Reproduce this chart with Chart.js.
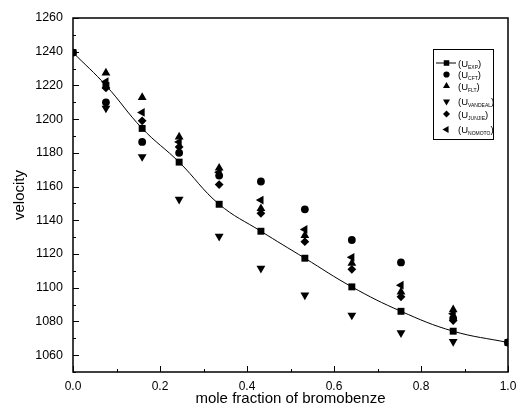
<!DOCTYPE html>
<html><head><meta charset="utf-8">
<script src="https://cdn.jsdelivr.net/npm/chart.js@4/dist/chart.umd.min.js"></script>
<style>html,body{margin:0;padding:0;background:#fff}canvas{display:block}</style>
</head><body>
<canvas id="c" width="518" height="410"></canvas>
<script>
// ---- data ----
const moleFraction = [0, 0.0757, 0.159, 0.244, 0.336, 0.432, 0.533, 0.641, 0.754, 0.874, 1.0];
const uEXP     = [1239.5, 1220.0, 1194.5, 1174.5, 1149.5, 1133.5, 1117.5, 1100.5, 1086.0, 1074.2, 1067.5];
const uCFT     = [1239.5, 1210.0, 1186.5, 1180.0, 1166.5, 1163.0, 1146.5, 1128.3, 1115.0, 1081.8, 1067.5];
const uFLT     = [null, 1227.4, 1212.9, 1189.5, 1171.0, 1147.0, 1131.0, 1114.5, 1097.5, 1087.0, null];
const uVANDEAL = [null, 1206.5, 1177.7, 1152.4, 1130.5, 1111.5, 1095.6, 1083.7, 1073.2, 1068.0, null];
const uJUNJIE  = [null, 1218.5, 1199.0, 1183.5, 1161.2, 1144.1, 1127.3, 1110.9, 1094.6, 1080.5, null];
const uNOMOTO  = [null, 1222.2, 1204.0, 1186.5, 1168.5, 1152.0, 1134.6, 1118.0, 1101.5, 1084.5, null];
const seriesSubs = ['EXP', 'CFT', 'FLT', 'VANDEAL', 'JUNJIE', 'NOMOTO'];
const xTickLabels = ['0.0', '0.2', '0.4', '0.6', '0.8', '1.0'];
const yTickLabels = ['1060','1080','1100','1120','1140','1160','1180','1200','1220','1240','1260'];
const xTitle = 'mole fraction of bromobenze';
const yTitle = 'velocity';

function pts(arr){ return moleFraction.map((x,i)=>arr[i]==null?null:{x:x,y:arr[i]}).filter(p=>p); }

const FONT = "'Liberation Sans', Arial, sans-serif";
const styles = [
  {pointStyle:'rect', rotation:0, radius:4.9},
  {pointStyle:'circle', rotation:0, radius:3.9},
  {pointStyle:'triangle', rotation:0, radius:5.1},
  {pointStyle:'triangle', rotation:180, radius:5.1},
  {pointStyle:'rectRot', rotation:0, radius:4.4},
  {pointStyle:'triangle', rotation:270, radius:5.1}
];
const seriesData = [uEXP, uCFT, uFLT, uVANDEAL, uJUNJIE, uNOMOTO];

const datasets = seriesData.map((arr, i) => ({
  type: i === 0 ? 'line' : 'scatter',
  label: 'U' + seriesSubs[i],
  data: pts(arr),
  showLine: i === 0,
  borderColor: '#000',
  backgroundColor: '#000',
  borderWidth: 1,
  tension: 0.4,
  pointStyle: styles[i].pointStyle,
  pointRotation: styles[i].rotation,
  pointRadius: styles[i].radius,
  pointBorderWidth: 0,
  pointBackgroundColor: '#000',
  order: i === 0 ? 10 : 0
}));

const decor = {
  id: 'decor',
  afterDraw(chart){
    const {ctx, chartArea:a, scales:{x, y}} = chart;
    ctx.save();
    ctx.strokeStyle = '#000';
    ctx.lineWidth = 1;
    ctx.beginPath();
    x.ticks.forEach((t, i) => {
      const px = Math.round(x.getPixelForValue(t.value)) + 0.5;
      const len = i % 2 === 0 ? 6 : 3;
      ctx.moveTo(px, a.bottom); ctx.lineTo(px, a.bottom - len);
    });
    y.ticks.forEach(t => {
      const py = Math.round(y.getPixelForValue(t.value)) + 0.5;
      const len = Math.round(t.value) % 20 === 0 ? 6 : 3;
      ctx.moveTo(a.left, py); ctx.lineTo(a.left + len, py);
    });
    ctx.stroke();
    ctx.lineWidth = 1.5;
    ctx.strokeRect(a.left, a.top, a.right - a.left, a.bottom - a.top);

    // legend
    const bx = 433.5, by = 49.5, bw = 60, bh = 90;
    ctx.lineWidth = 1;
    ctx.fillStyle = '#fff';
    ctx.fillRect(bx, by, bw, bh);
    ctx.strokeRect(bx, by, bw, bh);
    const rowY = [63, 74.5, 86, 101.5, 114, 129.5];
    const mx = 446.5;
    ctx.fillStyle = '#000';
    datasets.forEach((ds, i) => {
      const cy = rowY[i];
      if (i === 0) {
        ctx.beginPath(); ctx.moveTo(436, cy); ctx.lineTo(456, cy); ctx.stroke();
      }
      const opts = {pointStyle: ds.pointStyle, rotation: ds.pointRotation, radius: ds.pointRadius * 0.8, borderWidth: 0};
      ctx.fillStyle = '#000';
      Chart.helpers.drawPoint(ctx, opts, mx, cy);
      ctx.fillStyle = '#000';
      ctx.textBaseline = 'alphabetic';
      ctx.textAlign = 'left';
      let tx = 458;
      ctx.font = '9.5px ' + FONT;
      ctx.fillText('(U', tx, cy + 3.5);
      tx += ctx.measureText('(U').width;
      ctx.font = '5px ' + FONT;
      ctx.fillText(seriesSubs[i], tx, cy + 5.5);
      tx += ctx.measureText(seriesSubs[i]).width;
      ctx.font = '9.5px ' + FONT;
      ctx.fillText(')', tx, cy + 3.5);
    });
    ctx.restore();
  }
};

new Chart(document.getElementById('c'), {
  data: { datasets },
  options: {
    responsive: false,
    animation: false,
    devicePixelRatio: 1,
    layout: { padding: { left: 0, right: 10, top: 18, bottom: 0 } },
    plugins: { legend: { display: false }, tooltip: { enabled: false } },
    scales: {
      x: {
        type: 'linear', min: 0, max: 1,
        border: { display: false },
        grid: { display: false, drawTicks: false },
        ticks: {
          stepSize: 0.1, autoSkip: false, maxRotation: 0, padding: 7, color: '#000',
          font: { family: FONT, size: 12 },
          callback: (v, i) => i % 2 === 0 ? xTickLabels[i / 2] : ''
        },
        title: { display: true, text: xTitle, color: '#000', font: { family: FONT, size: 15 }, padding: { top: 0, bottom: 2 } },
        afterFit(s) { s.height = 38; s.paddingLeft = 0; s.paddingRight = 0; }
      },
      y: {
        type: 'linear', min: 1050, max: 1260,
        border: { display: false },
        grid: { display: false, drawTicks: false },
        ticks: {
          stepSize: 10, autoSkip: false, padding: 10, color: '#000',
          font: { family: FONT, size: 12.5 },
          callback: (v) => { const k = Math.round(v); const idx = (k - 1060) / 20; return (k % 20 === 0 && idx >= 0) ? yTickLabels[idx] : ''; }
        },
        title: { display: true, text: yTitle, color: '#000', font: { family: FONT, size: 15 }, padding: { top: 11, bottom: 0 } },
        afterFit(s) { s.width = 73; s.paddingTop = 0; s.paddingBottom = 0; }
      }
    }
  },
  plugins: [decor]
});
</script>
</body></html>
